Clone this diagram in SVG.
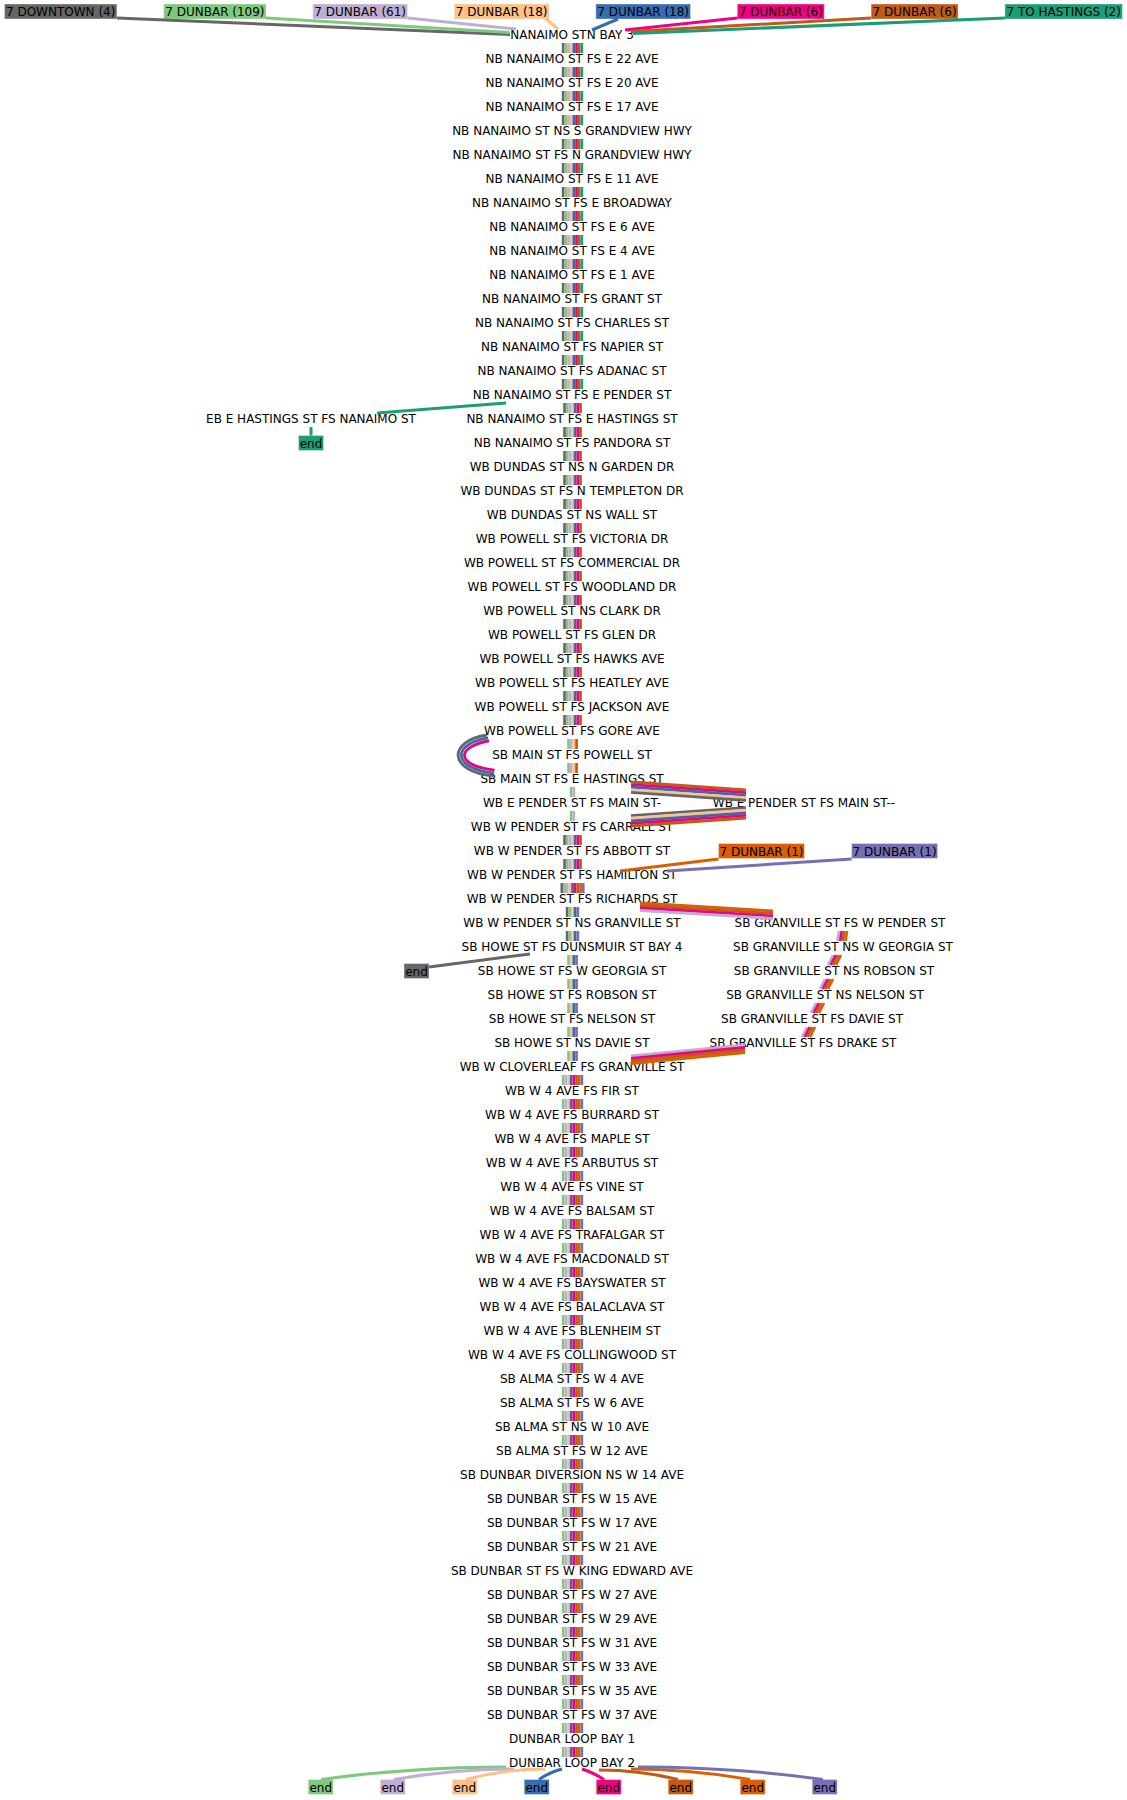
<svg xmlns="http://www.w3.org/2000/svg" width="1127" height="1800" viewBox="0 0 1127 1800">
<style>
text{font-family:"DejaVu Sans","Liberation Sans",sans-serif;font-size:12px;fill:#000}
.m{text-anchor:middle}
.ln{fill:none;stroke-width:3}
.bd{fill:none;stroke-width:2.8}
.lp{fill:none;stroke-width:2.9}
.gy{stroke:#666666}.gr{stroke:#7fc97f}.lv{stroke:#beaed4}.pc{stroke:#fdc086}.bl{stroke:#386cb0}.mg{stroke:#f0027f}.br{stroke:#bf5b17}.tl{stroke:#1b9e77}.or{stroke:#d95f02}.pu{stroke:#7570b3}
.box{stroke:#ffffff;stroke-opacity:0.35;stroke-width:1}
</style>
<defs>
<g id="bA"><rect x="561.8" width="2.7" height="10" fill="#666666"/><rect x="564.5" width="2.7" height="10" fill="#7fc97f"/><rect x="567.2" width="2.7" height="10" fill="#beaed4"/><rect x="569.8" width="2.7" height="10" fill="#fdc086"/><rect x="572.5" width="2.7" height="10" fill="#386cb0"/><rect x="575.2" width="2.7" height="10" fill="#f0027f"/><rect x="577.8" width="2.7" height="10" fill="#bf5b17"/><rect x="580.5" width="2.7" height="10" fill="#1b9e77"/></g>
<g id="bB"><rect x="563.2" width="2.7" height="10" fill="#666666"/><rect x="565.8" width="2.7" height="10" fill="#7fc97f"/><rect x="568.5" width="2.7" height="10" fill="#beaed4"/><rect x="571.2" width="2.7" height="10" fill="#fdc086"/><rect x="573.8" width="2.7" height="10" fill="#386cb0"/><rect x="576.5" width="2.7" height="10" fill="#f0027f"/><rect x="579.2" width="2.7" height="10" fill="#bf5b17"/></g>
<g id="bC"><rect x="567.2" width="2.7" height="10" fill="#7fc97f"/><rect x="569.8" width="2.7" height="10" fill="#beaed4"/><rect x="572.5" width="2.7" height="10" fill="#fdc086"/><rect x="575.2" width="2.7" height="10" fill="#bf5b17"/></g>
<g id="bD"><rect x="569.8" width="2.7" height="10" fill="#7fc97f"/><rect x="572.5" width="2.7" height="10" fill="#beaed4"/></g>
<g id="bE"><rect x="560.5" width="2.7" height="10" fill="#666666"/><rect x="563.2" width="2.7" height="10" fill="#7fc97f"/><rect x="565.8" width="2.7" height="10" fill="#beaed4"/><rect x="568.5" width="2.7" height="10" fill="#fdc086"/><rect x="571.2" width="2.7" height="10" fill="#386cb0"/><rect x="573.8" width="2.7" height="10" fill="#f0027f"/><rect x="576.5" width="2.7" height="10" fill="#bf5b17"/><rect x="579.2" width="2.7" height="10" fill="#d95f02"/><rect x="581.9" width="2.7" height="10" fill="#7570b3"/></g>
<g id="bF"><rect x="565.8" width="2.7" height="10" fill="#666666"/><rect x="568.5" width="2.7" height="10" fill="#7fc97f"/><rect x="571.2" width="2.7" height="10" fill="#fdc086"/><rect x="573.8" width="2.7" height="10" fill="#386cb0"/><rect x="576.5" width="2.7" height="10" fill="#7570b3"/></g>
<g id="bG"><rect x="567.2" width="2.7" height="10" fill="#7fc97f"/><rect x="569.8" width="2.7" height="10" fill="#fdc086"/><rect x="572.5" width="2.7" height="10" fill="#386cb0"/><rect x="575.2" width="2.7" height="10" fill="#7570b3"/></g>
<g id="bH"><rect x="561.8" width="2.7" height="10" fill="#7fc97f"/><rect x="564.5" width="2.7" height="10" fill="#beaed4"/><rect x="567.2" width="2.7" height="10" fill="#fdc086"/><rect x="569.8" width="2.7" height="10" fill="#386cb0"/><rect x="572.5" width="2.7" height="10" fill="#f0027f"/><rect x="575.2" width="2.7" height="10" fill="#bf5b17"/><rect x="577.8" width="2.7" height="10" fill="#d95f02"/><rect x="580.5" width="2.7" height="10" fill="#7570b3"/></g>
</defs>
<rect width="1127" height="1800" fill="#ffffff"/>

<g id="nodes">
<g id="lbl-downtown4"><rect class="box" x="4.5" y="4" width="112.4" height="15" fill="#666666"/><text class="m" x="60.7" y="16">7 DOWNTOWN (4)</text></g>
<g id="lbl-dunbar109"><rect class="box" x="163.7" y="4" width="102.3" height="15" fill="#7fc97f"/><text class="m" x="214.9" y="16">7 DUNBAR (109)</text></g>
<g id="lbl-dunbar61"><rect class="box" x="312.8" y="4" width="94.7" height="15" fill="#beaed4"/><text class="m" x="360.2" y="16">7 DUNBAR (61)</text></g>
<g id="lbl-dunbar18a"><rect class="box" x="454.3" y="4" width="94.7" height="15" fill="#fdc086"/><text class="m" x="501.7" y="16">7 DUNBAR (18)</text></g>
<g id="lbl-dunbar18b"><rect class="box" x="595.8" y="4" width="94.7" height="15" fill="#386cb0"/><text class="m" x="643.2" y="16">7 DUNBAR (18)</text></g>
<g id="lbl-dunbar6a"><rect class="box" x="737.3" y="4" width="87" height="15" fill="#f0027f"/><text class="m" x="780.8" y="16">7 DUNBAR (6)</text></g>
<g id="lbl-dunbar6b"><rect class="box" x="871.1" y="4" width="87" height="15" fill="#bf5b17"/><text class="m" x="914.6" y="16">7 DUNBAR (6)</text></g>
<g id="lbl-hastings2"><rect class="box" x="1004.9" y="4" width="117.5" height="15" fill="#1b9e77"/><text class="m" x="1063.7" y="16">7 TO HASTINGS (2)</text></g>
<g id="lbl-dunbar1a"><rect class="box" x="718.5" y="843.5" width="86" height="15" fill="#d95f02"/><text class="m" x="761.5" y="855.5">7 DUNBAR (1)</text></g>
<g id="lbl-dunbar1b"><rect class="box" x="851.6" y="843.5" width="86" height="15" fill="#7570b3"/><text class="m" x="894.6" y="855.5">7 DUNBAR (1)</text></g>

<g id="stops" transform="translate(0,-1)">
<g id="s0"><text class="m" x="572" y="39.5">NANAIMO STN BAY 3</text></g>
<g id="s1"><text class="m" x="572" y="63.5">NB NANAIMO ST FS E 22 AVE</text></g>
<g id="s2"><text class="m" x="572" y="87.5">NB NANAIMO ST FS E 20 AVE</text></g>
<g id="s3"><text class="m" x="572" y="111.5">NB NANAIMO ST FS E 17 AVE</text></g>
<g id="s4"><text class="m" x="572" y="135.5">NB NANAIMO ST NS S GRANDVIEW HWY</text></g>
<g id="s5"><text class="m" x="572" y="159.5">NB NANAIMO ST FS N GRANDVIEW HWY</text></g>
<g id="s6"><text class="m" x="572" y="183.5">NB NANAIMO ST FS E 11 AVE</text></g>
<g id="s7"><text class="m" x="572" y="207.5">NB NANAIMO ST FS E BROADWAY</text></g>
<g id="s8"><text class="m" x="572" y="231.5">NB NANAIMO ST FS E 6 AVE</text></g>
<g id="s9"><text class="m" x="572" y="255.5">NB NANAIMO ST FS E 4 AVE</text></g>
<g id="s10"><text class="m" x="572" y="279.5">NB NANAIMO ST FS E 1 AVE</text></g>
<g id="s11"><text class="m" x="572" y="303.5">NB NANAIMO ST FS GRANT ST</text></g>
<g id="s12"><text class="m" x="572" y="327.5">NB NANAIMO ST FS CHARLES ST</text></g>
<g id="s13"><text class="m" x="572" y="351.5">NB NANAIMO ST FS NAPIER ST</text></g>
<g id="s14"><text class="m" x="572" y="375.5">NB NANAIMO ST FS ADANAC ST</text></g>
<g id="s15"><text class="m" x="572" y="399.5">NB NANAIMO ST FS E PENDER ST</text></g>
<g id="s16"><text class="m" x="572" y="423.5">NB NANAIMO ST FS E HASTINGS ST</text></g>
<g id="s17"><text class="m" x="572" y="447.5">NB NANAIMO ST FS PANDORA ST</text></g>
<g id="s18"><text class="m" x="572" y="471.5">WB DUNDAS ST NS N GARDEN DR</text></g>
<g id="s19"><text class="m" x="572" y="495.5">WB DUNDAS ST FS N TEMPLETON DR</text></g>
<g id="s20"><text class="m" x="572" y="519.5">WB DUNDAS ST NS WALL ST</text></g>
<g id="s21"><text class="m" x="572" y="543.5">WB POWELL ST FS VICTORIA DR</text></g>
<g id="s22"><text class="m" x="572" y="567.5">WB POWELL ST FS COMMERCIAL DR</text></g>
<g id="s23"><text class="m" x="572" y="591.5">WB POWELL ST FS WOODLAND DR</text></g>
<g id="s24"><text class="m" x="572" y="615.5">WB POWELL ST NS CLARK DR</text></g>
<g id="s25"><text class="m" x="572" y="639.5">WB POWELL ST FS GLEN DR</text></g>
<g id="s26"><text class="m" x="572" y="663.5">WB POWELL ST FS HAWKS AVE</text></g>
<g id="s27"><text class="m" x="572" y="687.5">WB POWELL ST FS HEATLEY AVE</text></g>
<g id="s28"><text class="m" x="572" y="711.5">WB POWELL ST FS JACKSON AVE</text></g>
<g id="s29"><text class="m" x="572" y="735.5">WB POWELL ST FS GORE AVE</text></g>
<g id="s30"><text class="m" x="572" y="759.5">SB MAIN ST FS POWELL ST</text></g>
<g id="s31"><text class="m" x="572" y="783.5">SB MAIN ST FS E HASTINGS ST</text></g>
<g id="s32"><text class="m" x="572" y="807.5">WB E PENDER ST FS MAIN ST-</text></g>
<g id="s33"><text class="m" x="572" y="831.5">WB W PENDER ST FS CARRALL ST</text></g>
<g id="s34"><text class="m" x="572" y="855.5">WB W PENDER ST FS ABBOTT ST</text></g>
<g id="s35"><text class="m" x="572" y="879.5">WB W PENDER ST FS HAMILTON ST</text></g>
<g id="s36"><text class="m" x="572" y="903.5">WB W PENDER ST FS RICHARDS ST</text></g>
<g id="s37"><text class="m" x="572" y="927.5">WB W PENDER ST NS GRANVILLE ST</text></g>
<g id="s38"><text class="m" x="572" y="951.5">SB HOWE ST FS DUNSMUIR ST BAY 4</text></g>
<g id="s39"><text class="m" x="572" y="975.5">SB HOWE ST FS W GEORGIA ST</text></g>
<g id="s40"><text class="m" x="572" y="999.5">SB HOWE ST FS ROBSON ST</text></g>
<g id="s41"><text class="m" x="572" y="1023.5">SB HOWE ST FS NELSON ST</text></g>
<g id="s42"><text class="m" x="572" y="1047.5">SB HOWE ST NS DAVIE ST</text></g>
<g id="s43"><text class="m" x="572" y="1071.5">WB W CLOVERLEAF FS GRANVILLE ST</text></g>
<g id="s44"><text class="m" x="572" y="1095.5">WB W 4 AVE FS FIR ST</text></g>
<g id="s45"><text class="m" x="572" y="1119.5">WB W 4 AVE FS BURRARD ST</text></g>
<g id="s46"><text class="m" x="572" y="1143.5">WB W 4 AVE FS MAPLE ST</text></g>
<g id="s47"><text class="m" x="572" y="1167.5">WB W 4 AVE FS ARBUTUS ST</text></g>
<g id="s48"><text class="m" x="572" y="1191.5">WB W 4 AVE FS VINE ST</text></g>
<g id="s49"><text class="m" x="572" y="1215.5">WB W 4 AVE FS BALSAM ST</text></g>
<g id="s50"><text class="m" x="572" y="1239.5">WB W 4 AVE FS TRAFALGAR ST</text></g>
<g id="s51"><text class="m" x="572" y="1263.5">WB W 4 AVE FS MACDONALD ST</text></g>
<g id="s52"><text class="m" x="572" y="1287.5">WB W 4 AVE FS BAYSWATER ST</text></g>
<g id="s53"><text class="m" x="572" y="1311.5">WB W 4 AVE FS BALACLAVA ST</text></g>
<g id="s54"><text class="m" x="572" y="1335.5">WB W 4 AVE FS BLENHEIM ST</text></g>
<g id="s55"><text class="m" x="572" y="1359.5">WB W 4 AVE FS COLLINGWOOD ST</text></g>
<g id="s56"><text class="m" x="572" y="1383.5">SB ALMA ST FS W 4 AVE</text></g>
<g id="s57"><text class="m" x="572" y="1407.5">SB ALMA ST FS W 6 AVE</text></g>
<g id="s58"><text class="m" x="572" y="1431.5">SB ALMA ST NS W 10 AVE</text></g>
<g id="s59"><text class="m" x="572" y="1455.5">SB ALMA ST FS W 12 AVE</text></g>
<g id="s60"><text class="m" x="572" y="1479.5">SB DUNBAR DIVERSION NS W 14 AVE</text></g>
<g id="s61"><text class="m" x="572" y="1503.5">SB DUNBAR ST FS W 15 AVE</text></g>
<g id="s62"><text class="m" x="572" y="1527.5">SB DUNBAR ST FS W 17 AVE</text></g>
<g id="s63"><text class="m" x="572" y="1551.5">SB DUNBAR ST FS W 21 AVE</text></g>
<g id="s64"><text class="m" x="572" y="1575.5">SB DUNBAR ST FS W KING EDWARD AVE</text></g>
<g id="s65"><text class="m" x="572" y="1599.5">SB DUNBAR ST FS W 27 AVE</text></g>
<g id="s66"><text class="m" x="572" y="1623.5">SB DUNBAR ST FS W 29 AVE</text></g>
<g id="s67"><text class="m" x="572" y="1647.5">SB DUNBAR ST FS W 31 AVE</text></g>
<g id="s68"><text class="m" x="572" y="1671.5">SB DUNBAR ST FS W 33 AVE</text></g>
<g id="s69"><text class="m" x="572" y="1695.5">SB DUNBAR ST FS W 35 AVE</text></g>
<g id="s70"><text class="m" x="572" y="1719.5">SB DUNBAR ST FS W 37 AVE</text></g>
<g id="s71"><text class="m" x="572" y="1743.5">DUNBAR LOOP BAY 1</text></g>
<g id="s72"><text class="m" x="572" y="1767.5">DUNBAR LOOP BAY 2</text></g>

<g id="s-eb-hastings"><text class="m" x="311" y="423.5">EB E HASTINGS ST FS NANAIMO ST</text></g>
<g id="s-pender-main2"><text class="m" x="804" y="807.5">WB E PENDER ST FS MAIN ST--</text></g>
<g id="s-gr-pender"><text class="m" x="840" y="927.5">SB GRANVILLE ST FS W PENDER ST</text></g>
<g id="s-gr-georgia"><text class="m" x="843" y="951.5">SB GRANVILLE ST NS W GEORGIA ST</text></g>
<g id="s-gr-robson"><text class="m" x="834" y="975.5">SB GRANVILLE ST NS ROBSON ST</text></g>
<g id="s-gr-nelson"><text class="m" x="825" y="999.5">SB GRANVILLE ST NS NELSON ST</text></g>
<g id="s-gr-davie"><text class="m" x="812" y="1023.5">SB GRANVILLE ST FS DAVIE ST</text></g>
<g id="s-gr-drake"><text class="m" x="803" y="1047.5">SB GRANVILLE ST FS DRAKE ST</text></g>
</g>

<g id="end-teal"><rect class="box" x="298.5" y="435.5" width="25" height="15" fill="#1b9e77"/><text class="m" x="311" y="447.5">end</text></g>
<g id="end-gray"><rect class="box" x="404" y="963.5" width="25" height="15" fill="#666666"/><text class="m" x="416.5" y="975.5">end</text></g>
<g id="end-green"><rect class="box" x="308.2" y="1779.5" width="25" height="15" fill="#7fc97f"/><text class="m" x="320.7" y="1791.5">end</text></g>
<g id="end-lav"><rect class="box" x="380.2" y="1779.5" width="25" height="15" fill="#beaed4"/><text class="m" x="392.7" y="1791.5">end</text></g>
<g id="end-peach"><rect class="box" x="452.2" y="1779.5" width="25" height="15" fill="#fdc086"/><text class="m" x="464.7" y="1791.5">end</text></g>
<g id="end-blue"><rect class="box" x="524.2" y="1779.5" width="25" height="15" fill="#386cb0"/><text class="m" x="536.7" y="1791.5">end</text></g>
<g id="end-mag"><rect class="box" x="596.2" y="1779.5" width="25" height="15" fill="#f0027f"/><text class="m" x="608.7" y="1791.5">end</text></g>
<g id="end-brown"><rect class="box" x="668.2" y="1779.5" width="25" height="15" fill="#bf5b17"/><text class="m" x="680.7" y="1791.5">end</text></g>
<g id="end-orange"><rect class="box" x="740.2" y="1779.5" width="25" height="15" fill="#d95f02"/><text class="m" x="752.7" y="1791.5">end</text></g>
<g id="end-purple"><rect class="box" x="812.2" y="1779.5" width="25" height="15" fill="#7570b3"/><text class="m" x="824.7" y="1791.5">end</text></g>
</g>

<g id="connectors">
<path class="ln gy" d="M117 18 L510 34.5"/>
<path class="ln gr" d="M266 18 L510 32.5"/>
<path class="ln lv" d="M407.5 18 L516 29"/>
<path class="ln pc" d="M546 19 L558 29"/>
<path class="ln bl" d="M618 19 L592 30"/>
<path class="ln mg" d="M737.5 18 L625 30"/>
<path class="ln br" d="M871 18 L631 31.5"/>
<path class="ln tl" d="M1005 18 L633 33.5"/>

<use href="#bA" y="43"/><use href="#bA" y="67"/><use href="#bA" y="91"/><use href="#bA" y="115"/><use href="#bA" y="139"/><use href="#bA" y="163"/><use href="#bA" y="187"/><use href="#bA" y="211"/><use href="#bA" y="235"/><use href="#bA" y="259"/><use href="#bA" y="283"/><use href="#bA" y="307"/><use href="#bA" y="331"/><use href="#bA" y="355"/><use href="#bA" y="379"/>
<use href="#bB" y="403"/><use href="#bB" y="427"/><use href="#bB" y="451"/><use href="#bB" y="475"/><use href="#bB" y="499"/><use href="#bB" y="523"/><use href="#bB" y="547"/><use href="#bB" y="571"/><use href="#bB" y="595"/><use href="#bB" y="619"/><use href="#bB" y="643"/><use href="#bB" y="667"/><use href="#bB" y="691"/><use href="#bB" y="715"/>
<use href="#bC" y="739"/><use href="#bC" y="763"/>
<use href="#bD" y="787"/><use href="#bD" y="811"/>
<use href="#bB" y="835"/><use href="#bB" y="859"/>
<use href="#bE" y="883"/>
<use href="#bF" y="907"/><use href="#bF" y="931"/>
<use href="#bG" y="955"/><use href="#bG" y="979"/><use href="#bG" y="1003"/><use href="#bG" y="1027"/><use href="#bG" y="1051"/>
<use href="#bH" y="1075"/><use href="#bH" y="1099"/><use href="#bH" y="1123"/><use href="#bH" y="1147"/><use href="#bH" y="1171"/><use href="#bH" y="1195"/><use href="#bH" y="1219"/><use href="#bH" y="1243"/><use href="#bH" y="1267"/><use href="#bH" y="1291"/><use href="#bH" y="1315"/><use href="#bH" y="1339"/><use href="#bH" y="1363"/><use href="#bH" y="1387"/><use href="#bH" y="1411"/><use href="#bH" y="1435"/><use href="#bH" y="1459"/><use href="#bH" y="1483"/><use href="#bH" y="1507"/><use href="#bH" y="1531"/><use href="#bH" y="1555"/><use href="#bH" y="1579"/><use href="#bH" y="1603"/><use href="#bH" y="1627"/><use href="#bH" y="1651"/><use href="#bH" y="1675"/><use href="#bH" y="1699"/><use href="#bH" y="1723"/><use href="#bH" y="1747"/>

<path class="ln tl" d="M506 403 L377 413"/>
<path class="ln tl" d="M311 427 L311 435.5"/>

<path class="lp gy" d="M487 735 C447.5 741 447.5 771.5 493.5 776"/>
<path class="lp bl" d="M488 737.9 C451.5 744 451.5 768.5 494 773.1"/>
<path class="lp mg" d="M489 740.8 C455.5 747 455.5 765.5 494.5 770.2"/>

<path class="bd br" d="M631 782 L746 790"/>
<path class="bd mg" d="M631 784.6 L746 792.6"/>
<path class="bd bl" d="M631 787.2 L746 795.2"/>
<path class="bd pc" d="M631 789.8 L746 797.8"/>
<path class="bd gy" d="M631 792.4 L746 800.4"/>
<path class="bd gy" d="M746 807.6 L631 815.6"/>
<path class="bd pc" d="M746 810.2 L631 818.2"/>
<path class="bd bl" d="M746 812.8 L631 820.8"/>
<path class="bd mg" d="M746 815.4 L631 823.4"/>
<path class="bd br" d="M746 818 L631 826"/>

<path class="ln or" d="M718.5 859 L620 871"/>
<path class="ln pu" d="M851.6 859 L667 871"/>

<path class="bd or" d="M640 903 L773 911"/>
<path class="bd br" d="M640 905.5 L773 913.5"/>
<path class="bd mg" d="M640 908 L773 916"/>
<path class="bd lv" d="M640 910.5 L773 918.5"/>

<g stroke-width="2.7" fill="none">
<path class="lv" d="M839 931 L837.5 941"/><path class="mg" d="M841.7 931 L840.2 941"/><path class="br" d="M844.3 931 L842.8 941"/><path class="or" d="M847 931 L845.5 941"/>
<path class="lv" d="M833 955 L828 965"/><path class="mg" d="M835.7 955 L830.7 965"/><path class="br" d="M838.3 955 L833.3 965"/><path class="or" d="M841 955 L836 965"/>
<path class="lv" d="M825 979 L820 989"/><path class="mg" d="M827.7 979 L822.7 989"/><path class="br" d="M830.3 979 L825.3 989"/><path class="or" d="M833 979 L828 989"/>
<path class="lv" d="M816 1003 L811 1013"/><path class="mg" d="M818.7 1003 L813.7 1013"/><path class="br" d="M821.3 1003 L816.3 1013"/><path class="or" d="M824 1003 L819 1013"/>
<path class="lv" d="M807 1027 L802 1037"/><path class="mg" d="M809.7 1027 L804.7 1037"/><path class="br" d="M812.3 1027 L807.3 1037"/><path class="or" d="M815 1027 L810 1037"/>
</g>

<path class="bd lv" d="M745 1045 L631 1056"/>
<path class="bd mg" d="M745 1047.5 L631 1058.5"/>
<path class="bd br" d="M745 1050 L631 1061"/>
<path class="bd or" d="M745 1052.5 L631 1063.5"/>

<path class="ln gy" d="M530 954 L429 967"/>

<path class="ln gr" d="M321 1779.5 Q410 1767 506 1767"/>
<path class="ln lv" d="M394 1779.5 Q455 1769 514 1769"/>
<path class="ln pc" d="M466 1779.5 Q505 1769 545 1769"/>
<path class="ln bl" d="M539 1779.5 Q550 1772 562 1769"/>
<path class="ln mg" d="M604 1779.5 Q592 1772 582 1769"/>
<path class="ln br" d="M678 1779.5 Q640 1770 599 1770"/>
<path class="ln or" d="M750 1779.5 Q690 1769 631 1769"/>
<path class="ln pu" d="M823 1779.5 Q735 1767 638 1767"/>
</g>
</svg>
